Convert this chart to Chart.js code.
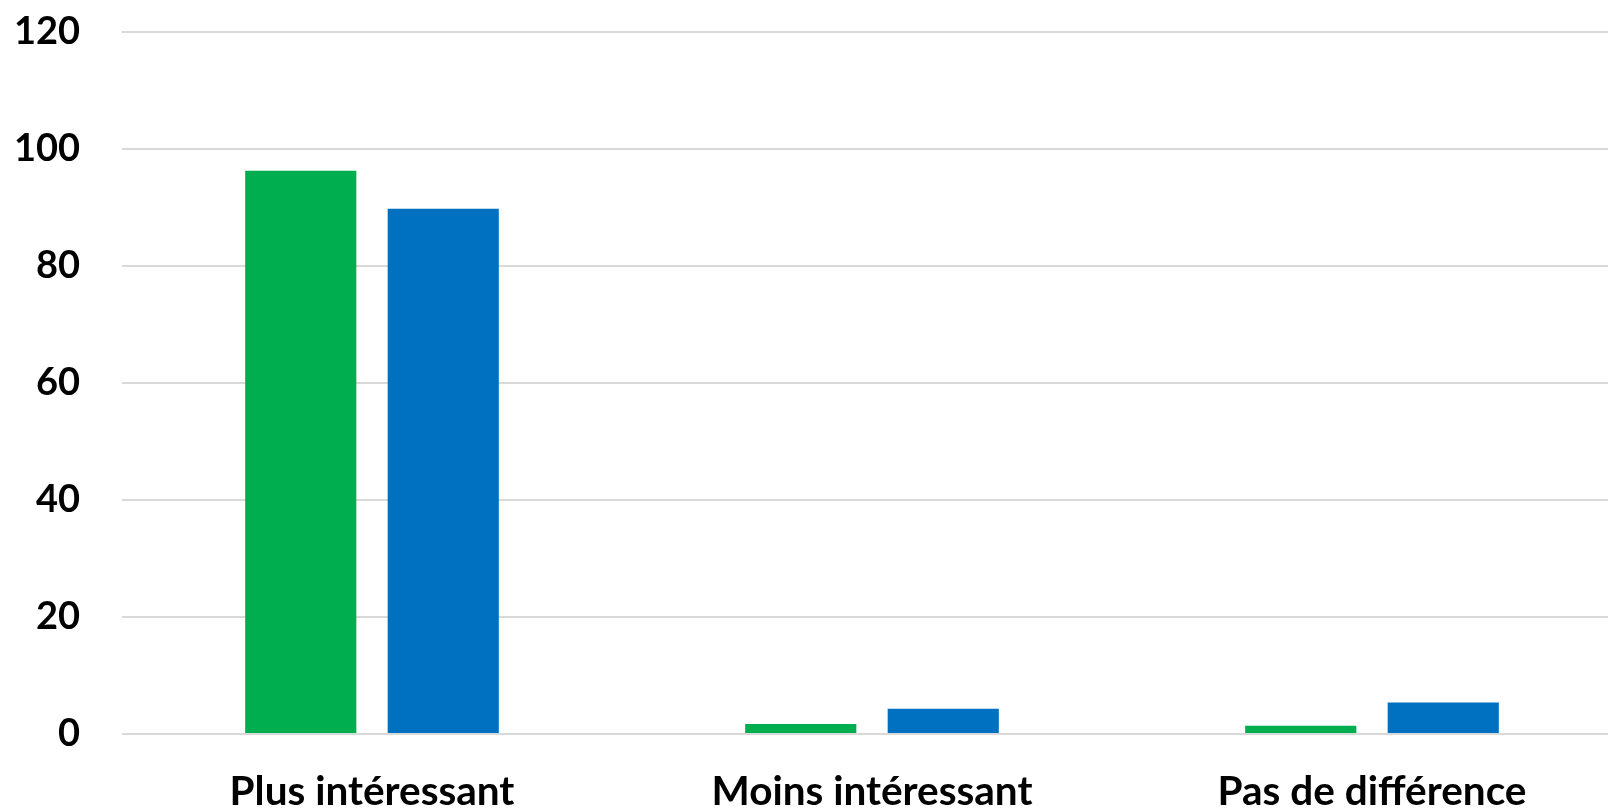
<!DOCTYPE html>
<html>
<head>
<meta charset="utf-8">
<script src="https://cdn.jsdelivr.net/npm/chart.js@4"></script>
<style>
  html, body { margin: 0; padding: 0; background: #fff; overflow: hidden; }
  #wrap { width: 1622px; height: 809px; }
</style>
</head>
<body>
<div id="wrap"><canvas id="myChart"></canvas></div>
<script>
// categories and values
var categories = ['Plus intéressant', 'Moins intéressant', 'Pas de différence'];
var seriesGreen = [96.3, 1.7, 1.4];
var seriesBlue = [89.8, 4.3, 5.4];
var yTicks = [0, 20, 40, 60, 80, 100, 120];

var data = {
    labels: categories,
    datasets: [{
        label: 'A',
        data: seriesGreen,
        backgroundColor: '#00AD4F',
        categoryPercentage: 0.57,
        barPercentage: 0.78
    }, {
        label: 'B',
        data: seriesBlue,
        backgroundColor: '#0070C0',
        categoryPercentage: 0.57,
        barPercentage: 0.78
    }]
};

var options = {
    responsive: true,
    maintainAspectRatio: false,
    animation: false,
    layout: { padding: { top: 32, right: 0, bottom: 0, left: 0 } },
    plugins: {
        legend: { display: false },
        tooltip: { enabled: false }
    },
    scales: {
        x: {
            grid: { display: false, drawTicks: false },
            border: { display: false },
            ticks: { color: '#000', font: { family: 'Lato', size: 40.5, weight: 'bold' }, padding: 34, maxRotation: 0 },
            afterFit: function (s) { s.height = 75; s.paddingLeft = 0; s.paddingRight = 0; }
        },
        y: {
            min: yTicks[0],
            max: yTicks[yTicks.length - 1],
            grid: { color: '#D9D9D9', lineWidth: 2, drawTicks: false },
            border: { display: false },
            ticks: { color: '#000', font: { family: 'Lato', size: 38, weight: 'bold' }, padding: 42, stepSize: 20 },
            afterBuildTicks: function (s) { s.ticks = yTicks.map(function (v) { return { value: v }; }); },
            afterFit: function (s) { s.width = 122; s.paddingTop = 0; s.paddingBottom = 0; }
        }
    }
};

var ctx = document.getElementById('myChart').getContext('2d');
var myChart = new Chart(ctx, { type: 'bar', data: data, options: options });
</script>
</body>
</html>
